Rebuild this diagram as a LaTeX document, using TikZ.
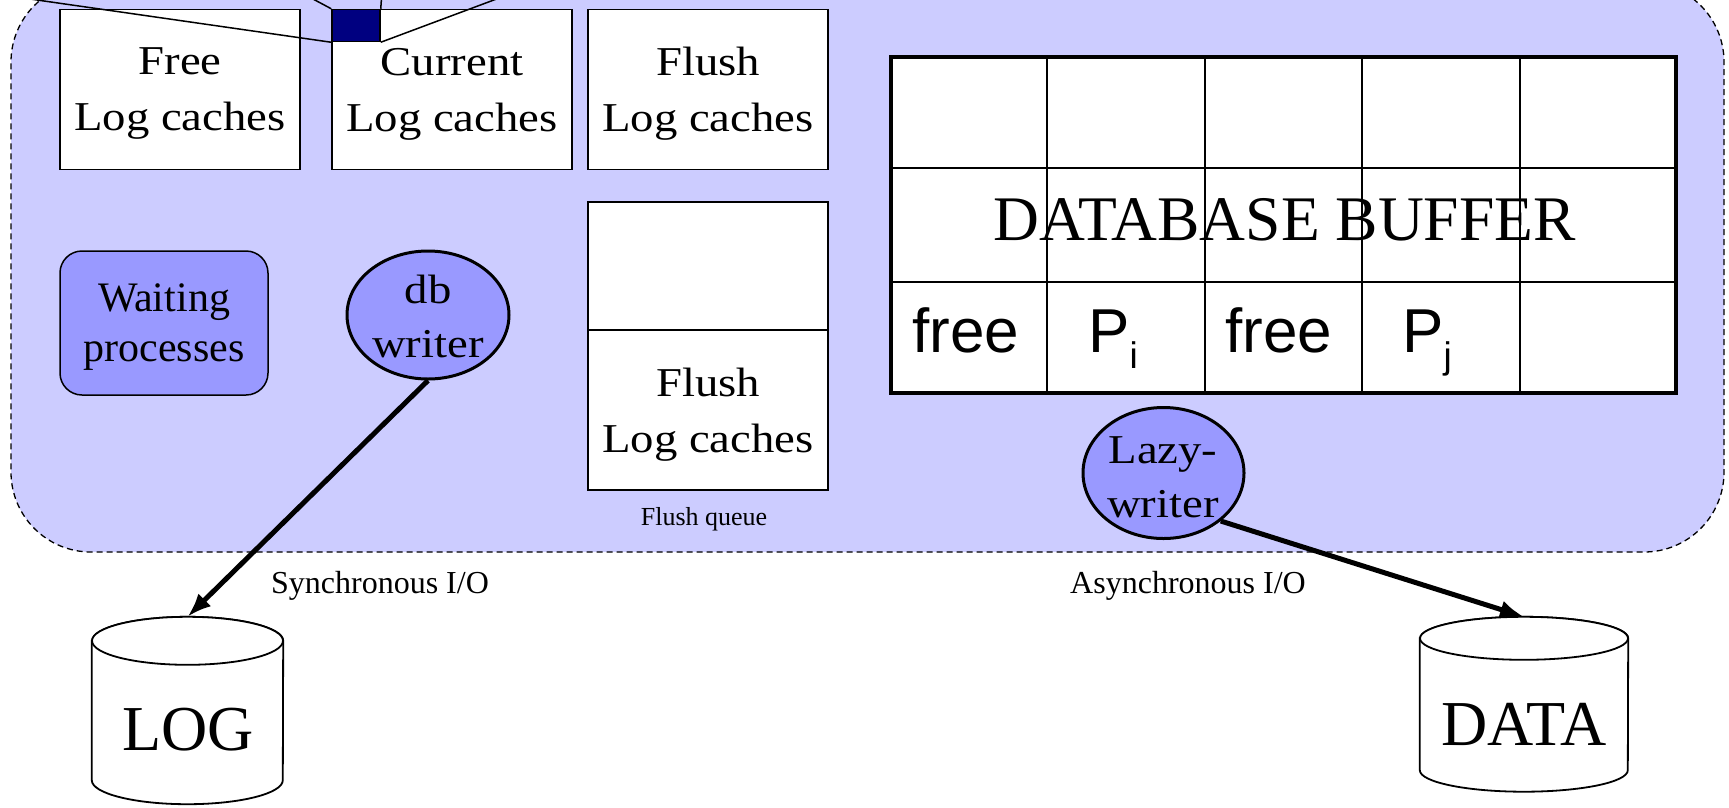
\documentclass[tikz,border=0pt]{standalone}
\usepackage{fontspec}
\setmainfont{Liberation Serif}
\newfontfamily\widefont[FakeStretch=1.14]{Liberation Serif}
\newfontfamily\cellfont{Liberation Sans}
\usetikzlibrary{arrows.meta, calc, shapes.geometric}

\definecolor{memblue}{RGB}{204,204,255}
\definecolor{procblue}{RGB}{153,153,255}
\definecolor{sqnavy}{RGB}{0,0,128}

\newcommand{\fsz}[2]{\fontsize{#1}{#2}\selectfont}
\newcommand{\cellsub}[1]{\raisebox{-16pt}{\fsz{37}{37}#1}}

\begin{document}
\begin{tikzpicture}[
  x=1pt, y=-1pt,
  >={Latex[length=24pt,width=18pt]},
  region/.style={draw, dash pattern=on 6pt off 4pt, line width=1.3pt, fill=memblue,
                 rounded corners=80pt, inner sep=0pt},
  cache/.style={draw, line width=1.5pt, fill=white, minimum width=240pt, minimum height=160pt,
                inner sep=0pt, align=center, text depth=0pt, font=\widefont\fsz{41}{56}},
  proc/.style={draw, ellipse, line width=3pt, fill=procblue, minimum width=162pt,
               minimum height=128pt, inner sep=0pt},
  proctxt/.style={align=center, inner sep=0pt, font=\widefont\fsz{41}{54}},
  gridline/.style={line width=2pt},
  cell/.style={anchor=base, inner sep=0pt, font=\cellfont\fsz{62}{62}},
  disk/.style={draw, line width=1.8pt, fill=white},
  disktxt/.style={anchor=base, inner sep=0pt, font=\fsz{64}{64}},
  callout/.style={line width=1.5pt},
  io/.style={->, line width=5pt},
  note/.style={anchor=base, inner sep=0pt, font=\fsz{32}{32}},
]
\useasboundingbox (0,0) rectangle (1729,807);
\clip (0,0) rectangle (1729,807);
% Memory region
\node[region, minimum width=1713pt, minimum height=570pt] (mem) at (867.5,267) {};
% Log caches (top row)
\node[cache] (free) at (180,89.5) {Free\\Log caches};
\node[cache] (cur)  at (452,89.5) {Current\\Log caches};
\node[cache] (fl)   at (708,89.5) {Flush\\Log caches};
% Zoomed square with callout lines
\node[draw, line width=1.5pt, fill=sqnavy, minimum width=48pt, minimum height=32pt,
      inner sep=0pt] (zoomsq) at (356,25.5) {};
\coordinate (zsw) at (-130,-24);
\coordinate (znw) at (298,-9);
\coordinate (zne) at (382,-9);
\coordinate (zse) at (550,-21);
\foreach \a/\c in {south west/zsw, north west/znw, north east/zne, south east/zse}
  \draw[callout] (zoomsq.\a) -- (\c);
% Processes
\node[draw, line width=1.5pt, fill=procblue, rounded corners=22pt, minimum width=208pt,
      minimum height=144pt, inner sep=0pt, align=center, text depth=0pt,
      font=\fsz{42}{50}] (wait) at (164,323) {Waiting\\processes};
\node[proc] (db) at (428,315) {};
\node[proctxt] (dbtxt) at (428,316) {db\\writer};
% Flush queue
\node[cache, minimum height=128pt] (fqtop) at (708,266) {};
\node[cache] (fqlog) at (708,410) {Flush\\Log caches};
\node[note, font=\fsz{26}{26}] (fqlbl) at (704,525) {Flush queue};
% Database buffer grid
\node[draw, line width=4pt, fill=white, minimum width=785pt, minimum height=336pt,
      inner sep=0pt] (buf) at (1283.5,225) {};
\foreach \i in {1,...,4}
  \draw[gridline] ($(buf.north west)!\i/5!(buf.north east)$) -- ($(buf.south west)!\i/5!(buf.south east)$);
\foreach \j in {1,2}
  \draw[gridline] ($(buf.north west)!\j/3!(buf.south west)$) -- ($(buf.north east)!\j/3!(buf.south east)$);
\node[anchor=base, inner sep=0pt, font=\fsz{63.5}{64}] (buftxt) at (1284.5,240) {DATABASE BUFFER};
\node[cell] (free1) at (966,352) {free};
\node[cell, anchor=base west] (pi) at (1088,352) {P\cellsub{i}};
\node[cell] (free2) at (1279,352) {free};
\node[cell, anchor=base west] (pj) at (1402,352) {P\cellsub{j}};
\node[proc, minimum width=161pt, minimum height=131pt] (lazy) at (1163.5,473) {};
\node[proctxt] (lazytxt) at (1163,477) {Lazy-\\writer};
% Disks
\node[minimum width=191pt, minimum height=139pt, inner sep=0pt] (log) at (187.5,710.5) {};
\draw[disk] (log.north west) -- (log.south west)
  arc[start angle=180, end angle=0, x radius=95.5, y radius=24] -- (log.north east)
  arc[start angle=0, end angle=-180, x radius=95.5, y radius=24] -- cycle;
\draw[disk] (log.north) ellipse[x radius=95.5, y radius=24];
\coordinate (logtop) at ($(log.north)+(0,-24)$);
\node[disktxt] (logtxt) at (188,750) {LOG};
\node[minimum width=208pt, minimum height=131.5pt, inner sep=0pt] (data) at (1524,704.25) {};
\draw[disk] (data.north west) -- (data.south west)
  arc[start angle=180, end angle=0, x radius=104, y radius=21.5] -- (data.north east)
  arc[start angle=0, end angle=-180, x radius=104, y radius=21.5] -- cycle;
\draw[disk] (data.north) ellipse[x radius=104, y radius=21.5];
\coordinate (datatop) at ($(data.north)+(0,-21.5)$);
\node[disktxt] (datatxt) at (1524,745) {DATA};
% I/O arrows
\draw[io] (db.south) -- (logtop);
\draw[io] (lazy.-40) -- (datatop);
\node[note] (sync) at (380,593) {Synchronous I/O};
\node[note] (async) at (1188,593) {Asynchronous I/O};
\end{tikzpicture}
\end{document}
